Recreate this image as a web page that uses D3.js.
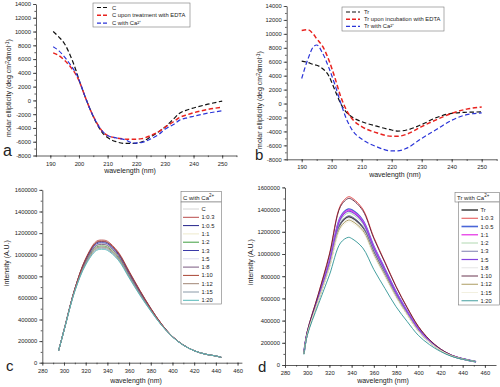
<!DOCTYPE html>
<html><head><meta charset="utf-8">
<script src="https://cdn.jsdelivr.net/npm/d3@7"></script>
<style>
body{margin:0;background:#fff}
svg{display:block}
text{font-family:"Liberation Sans",Arial,sans-serif;fill:#222}
</style>
</head><body>
<svg id="chart" width="500" height="387"></svg>
<script>
// ---------- Panel a: CD spectra of C ----------
const cdWavelengthsA = [191,193,195,197,199,200,202,204,206,208,210,213,216,219,222,225,228,230,233,235,238,240,245,250];
const cdC      = [10000,9200,8200,6500,4300,3000,700,-1400,-3200,-4600,-5400,-6000,-6250,-6250,-6000,-5300,-4500,-3900,-2700,-1900,-1350,-1100,-550,-100];
const cdCEdta  = [6900,6500,5800,4900,3700,2900,700,-1400,-3100,-4400,-5100,-5450,-5600,-5650,-5550,-5100,-4500,-3900,-3100,-2500,-2050,-1800,-1300,-1000];
const cdCCa    = [7800,7200,6300,5200,3900,3000,700,-1400,-3100,-4400,-5100,-5450,-5700,-6200,-6100,-5600,-4900,-4200,-3500,-2900,-2500,-2300,-1850,-1500];
const cdNamesA = ["C","C upon treatment with EDTA","C with Ca\u00B2\u207A"];

// ---------- Panel b: CD spectra of Tr ----------
const cdWavelengthsB = [190,192,194,195,197,199,201,203,205,207,210,215,220,222,225,230,235,240,245,250];
const cdTr     = [6100,5900,5600,5500,5000,4000,2000,0,-1300,-2000,-2600,-3250,-3800,-3950,-3800,-3000,-2000,-1400,-1250,-1200];
const cdTrEdta = [10500,10600,9900,9300,8200,6300,3800,1000,-1000,-2300,-3300,-4200,-4700,-4700,-4400,-3300,-2300,-1400,-800,-500];
const cdTrCa   = [3600,6300,8200,8400,7200,5200,2800,100,-2300,-3900,-5100,-6200,-6800,-6800,-6400,-5000,-3700,-2400,-1600,-1350];
const cdNamesB = ["Tr","Tr upon incubation with EDTA","Tr with Ca\u00B2\u207A"];

const cdColors = ["#111111","#e8231f","#2b35d8"];
const cdTicksY = [-8000,-6000,-4000,-2000,0,2000,4000,6000,8000,10000,12000,14000];
const cdTicksX = [190,200,210,220,230,240,250];

// ---------- Panel c: fluorescence of C with Ca2+ ----------
const flWavelengthsC = [295,300,310,320,330,336,340,350,360,370,380,390,400,410,420,430,440,445];
const flNamesC = ["C","1:0.3","1:0.5","1:1","1:2","1:3","1:5","1:8","1:10","1:12","1:15","1:20"];
const flC_0    = [110000,300000,678000,942000,1090000,1100000,1090000,993000,821000,649000,492000,351000,240000,163000,111000,80000,62000,50000];
const flC_03   = [110000,302000,685000,965000,1125000,1135000,1125000,1025000,848000,670000,505000,358000,243000,164000,111000,80000,62000,50000];
const flC_05   = [110000,301000,682000,955000,1110000,1120000,1110000,1012000,837000,662000,500000,356000,242000,164000,111000,80000,62000,50000];
const flC_1    = [110000,300000,675000,935000,1080000,1090000,1080000,985000,815000,645000,490000,350000,240000,163000,111000,80000,62000,50000];
const flC_2    = [110000,299000,672000,928000,1070000,1080000,1070000,976000,808000,640000,487000,349000,240000,163000,111000,80000,62000,50000];
const flC_3    = [110000,301000,680000,950000,1100000,1110000,1100000,1003000,829000,656000,497000,354000,241000,163000,111000,80000,62000,50000];
const flC_5    = [110000,298000,668000,920000,1060000,1070000,1060000,967000,800000,634000,484000,347000,239000,162000,111000,80000,62000,50000];
const flC_8    = [110000,300000,676000,938000,1085000,1095000,1085000,989000,818000,647000,491000,350000,240000,163000,111000,80000,62000,50000];
const flC_10   = [110000,302000,684000,960000,1115000,1125000,1115000,1016000,841000,666000,502000,357000,243000,164000,111000,80000,62000,50000];
const flC_12   = [110000,298000,668000,921000,1061000,1070000,1061000,968000,801000,635000,485000,347000,239000,162000,111000,80000,62000,50000];
const flC_15   = [110000,297000,665000,913000,1050000,1060000,1050000,958000,793000,629000,481000,346000,239000,162000,111000,80000,62000,50000];
const flC_20   = [110000,296000,662000,905000,1040000,1050000,1040000,950000,786000,624000,478000,345000,238000,162000,111000,80000,62000,50000];
const flColorsC = ["#d4d4d4","#b84a4a","#23238a","#eeeacc","#3f9f3f","#3a3aa8","#dcdcee","#7a5a80","#a84432","#a08674","#8a9aa8","#56b8b8"];

// ---------- Panel d: fluorescence of Tr with Ca2+ ----------
const flWavelengthsD = [297,300,310,320,330,337,340,350,360,370,380,390,400,410,420,430,440,452];
const flNamesD = ["Tr","1:0.3","1:0.5","1:1","1:2","1:3","1:5","1:8","1:10","1:12","1:15","1:20"];
const flT_0    = [100000,280000,588000,897000,1270000,1335000,1328000,1240000,1016000,822000,628000,464000,314000,210000,135000,84000,54000,30000];
const flT_03   = [105000,300000,640000,1000000,1440000,1515000,1507000,1405000,1150000,930000,710000,520000,350000,230000,145000,88000,56000,30000];
const flT_05   = [102000,288000,610000,935000,1335000,1405000,1398000,1305000,1070000,865000,660000,485000,328000,217000,139000,86000,55000,30000];
const flT_1    = [102000,287000,607000,930000,1326000,1395000,1388000,1296000,1062000,858000,655000,482000,326000,216000,138000,86000,55000,30000];
const flT_2    = [101000,285000,603000,918000,1303000,1370000,1363000,1273000,1043000,843000,644000,475000,321000,214000,137000,85000,55000,30000];
const flT_3    = [100000,282000,592000,903000,1280000,1345000,1338000,1250000,1024000,828000,633000,467000,316000,211000,136000,84000,54000,30000];
const flT_5    = [101000,286000,606000,925000,1318000,1385000,1378000,1287000,1055000,853000,651000,480000,324000,215000,138000,85000,55000,30000];
const flT_8    = [100000,278000,585000,888000,1255000,1320000,1313000,1227000,1005000,813000,621000,459000,311000,208000,134000,84000,54000,30000];
const flT_10   = [104000,298000,635000,990000,1428000,1500000,1493000,1392000,1140000,922000,704000,515000,347000,228000,144000,88000,56000,30000];
const flT_12   = [99000,277000,580000,880000,1242000,1305000,1298000,1213000,994000,804000,614000,454000,308000,206000,133000,83000,54000,30000];
const flT_15   = [99000,276000,576000,872000,1228000,1290000,1283000,1199000,983000,795000,607000,450000,305000,205000,132000,83000,54000,30000];
const flT_20   = [95000,265000,545000,810000,1100000,1150000,1140000,1055000,860000,690000,525000,392000,268000,184000,122000,78000,52000,30000];
const flColorsD = ["#4a4a4a","#e03838","#4a66d8","#e84ae8","#a8d4a8","#6e6ea6","#8444e0","#e2e2e2","#5a1f3c","#a39250","#f0eedc","#2f9494"];
const flWidthsD = [1.6,0.9,1.6,1.4,0.9,0.9,1.2,0.9,0.9,0.9,0.9,0.9];

const flTicksY = [0,200000,400000,600000,800000,1000000,1200000,1400000,1600000];
const flTicksX = [280,300,320,340,360,380,400,420,440,460];

const svg = d3.select("#chart");
const fmt = d => String(d);

function axes(g, x, y, xt, yt, xMinor, yMinor) {
  const yAx = g.append("g").attr("transform", `translate(${x.range()[0]},0)`)
    .call(d3.axisLeft(y).tickValues(yt).tickSize(3).tickSizeOuter(0).tickPadding(2).tickFormat(fmt));
  const yMi = g.append("g").attr("transform", `translate(${x.range()[0]},0)`)
    .call(d3.axisLeft(y).tickValues(yMinor).tickSize(1.6).tickSizeOuter(0).tickFormat(""));
  const xAx = g.append("g").attr("transform", `translate(0,${y.range()[0]})`)
    .call(d3.axisBottom(x).tickValues(xt).tickSize(3).tickSizeOuter(0).tickPadding(3).tickFormat(fmt));
  const xMi = g.append("g").attr("transform", `translate(0,${y.range()[0]})`)
    .call(d3.axisBottom(x).tickValues(xMinor).tickSize(1.6).tickSizeOuter(0).tickFormat(""));
  [yAx,yMi,xAx,xMi].forEach(a => {
    a.selectAll("path,line").attr("stroke","#333").attr("stroke-width",0.8);
    a.selectAll("text").attr("font-size",5.8).attr("fill","#333").style("font-family","Liberation Sans, Arial, sans-serif");
  });
  yMi.select("path").remove(); xMi.select("path").remove();
}

// ---------- CD panels ----------
function cdPanel(opt) {
  const g = svg.append("g");
  const x = d3.scaleLinear().domain([185,255]).range(opt.xr);
  const y = d3.scaleLinear().domain([-8000,14000]).range(opt.yr);
  axes(g, x, y, cdTicksX, cdTicksY, d3.range(185,256,5), d3.range(-8000,14001,1000));
  const line = d3.line().x(d => x(d[0])).y(d => y(d[1])).curve(d3.curveMonotoneX);
  opt.series.forEach((s,i) => {
    g.append("path").datum(opt.xs.map((w,k) => [w, s[k]]))
      .attr("d", line).attr("fill","none").attr("stroke", cdColors[i])
      .attr("stroke-width", i===1 ? 1.5 : 1.2).attr("stroke-dasharray","4.5,2.5");
  });
  const L = opt.legend;
  g.append("rect").attr("x",L.x).attr("y",L.y).attr("width",L.w).attr("height",L.h)
    .attr("fill","#fff").attr("stroke","#777").attr("stroke-width",0.6);
  opt.names.forEach((n,i) => {
    const cy = L.y + L.first + i*L.step;
    g.append("line").attr("x1",L.x+4).attr("x2",L.x+4+L.sample).attr("y1",cy).attr("y2",cy)
      .attr("stroke",cdColors[i]).attr("stroke-width", i===1?1.6:1.2).attr("stroke-dasharray","4,2");
    g.append("text").attr("x",L.x+8+L.sample).attr("y",cy+2).attr("font-size",5.8).text(n);
  });
  g.append("text").attr("transform",`translate(${opt.yt[0]},${opt.yt[1]}) rotate(-90)`)
    .attr("text-anchor","middle").attr("font-size",7).html("molar ellipticity (deg cm<tspan dy='-2.5' font-size='5'>2</tspan><tspan dy='2.5'>dmol</tspan><tspan dy='-2.5' font-size='5'>-1</tspan><tspan dy='2.5'>)</tspan>");
  g.append("text").attr("x",opt.xt[0]).attr("y",opt.xt[1]).attr("text-anchor","middle").attr("font-size",7).text("wavelength (nm)");
  g.append("text").attr("x",opt.letter[0]).attr("y",opt.letter[1]).attr("font-size",opt.letter[2]).attr("fill","#111").text(opt.letter[3]);
}

cdPanel({xr:[36,236.5], yr:[155.5,4], xs:cdWavelengthsA, series:[cdC,cdCEdta,cdCCa], names:cdNamesA,
  legend:{x:93,y:3,w:97,h:24,first:4.5,step:7.8,sample:11},
  yt:[11,88], xt:[130,173], letter:[3,156,16,"a"]});
cdPanel({xr:[286.7,496.7], yr:[159.3,6], xs:cdWavelengthsB, series:[cdTr,cdTrEdta,cdTrCa], names:cdNamesB,
  legend:{x:342,y:7,w:102,h:24,first:5,step:7.2,sample:14},
  yt:[262,100], xt:[395,177], letter:[255,160,15,"b"]});

// ---------- Fluorescence panels ----------
function flPanel(opt) {
  const g = svg.append("g");
  const x = d3.scaleLinear().domain(opt.xd).range(opt.xr);
  const y = d3.scaleLinear().domain([0,1600000]).range(opt.yr);
  axes(g, x, y, flTicksX, flTicksY, d3.range(280, opt.xd[1], 10), d3.range(0,1600001,100000));
  const line = d3.line().x(d => x(d[0])).y(d => y(d[1])).curve(d3.curveCatmullRom.alpha(0.5));
  opt.series.forEach((s,i) => {
    g.append("path").datum(opt.xs.map((w,k) => [w, s[k]]))
      .attr("d", line).attr("fill","none").attr("stroke", opt.colors[i])
      .attr("stroke-width", opt.widths ? opt.widths[i] : 0.9);
  });
  const L = opt.legend;
  g.append("rect").attr("x",L.tx).attr("y",L.ty).attr("width",L.tw).attr("height",L.th)
    .attr("fill","#fff").attr("stroke","#777").attr("stroke-width",0.6);
  g.append("text").attr("x",L.tx+2).attr("y",L.ty+L.th-2.5).attr("font-size",6).html(opt.title);
  g.append("rect").attr("x",L.x).attr("y",L.y).attr("width",L.w).attr("height",L.h)
    .attr("fill","#fff").attr("stroke","#777").attr("stroke-width",0.6);
  opt.names.forEach((n,i) => {
    const cy = L.y + L.first + i*L.step;
    g.append("line").attr("x1",L.sx).attr("x2",L.sx+L.sample).attr("y1",cy).attr("y2",cy)
      .attr("stroke",opt.colors[i]).attr("stroke-width", opt.widths ? opt.widths[i] : 1);
    g.append("text").attr("x",L.sx+L.sample+2.5).attr("y",cy+2).attr("font-size",5.8).text(n);
  });
  g.append("text").attr("transform",`translate(${opt.yt[0]},${opt.yt[1]}) rotate(-90)`)
    .attr("text-anchor","middle").attr("font-size",7).text("intensity (A.U.)");
  g.append("text").attr("x",opt.xt[0]).attr("y",opt.xt[1]).attr("text-anchor","middle").attr("font-size",7).text("wavelength (nm)");
  g.append("text").attr("x",opt.letter[0]).attr("y",opt.letter[1]).attr("font-size",opt.letter[2]).attr("fill","#111").text(opt.letter[3]);
}

flPanel({xd:[280,464], xr:[42.3,241.9], yr:[362.7,189.9], xs:flWavelengthsC,
  series:[flC_0,flC_03,flC_05,flC_1,flC_2,flC_3,flC_5,flC_8,flC_10,flC_12,flC_15,flC_20],
  names:flNamesC, colors:flColorsC,
  title:"C with Ca<tspan dy='-2.5' font-size='4.5'>2+</tspan>",
  legend:{tx:181,ty:191.5,tw:40.5,th:10.5,x:181,y:202,w:40.5,h:102,first:7,step:8.3,sx:183,sample:16},
  yt:[9,263], xt:[136,383], letter:[6,371,15,"c"]});
flPanel({xd:[280,470], xr:[285,496], yr:[365,187.4], xs:flWavelengthsD,
  series:[flT_0,flT_03,flT_05,flT_1,flT_2,flT_3,flT_5,flT_8,flT_10,flT_12,flT_15,flT_20],
  names:flNamesD, colors:flColorsD, widths:flWidthsD,
  title:"Tr with Ca<tspan dy='-2.5' font-size='4.5'>2+</tspan>",
  legend:{tx:455,ty:192.5,tw:44.5,th:9.5,x:458.5,y:202,w:41,h:103,first:8,step:8.25,sx:461.5,sample:16.5},
  yt:[253,262], xt:[383,383], letter:[258,372,15,"d"]});
</script>
</body></html>
